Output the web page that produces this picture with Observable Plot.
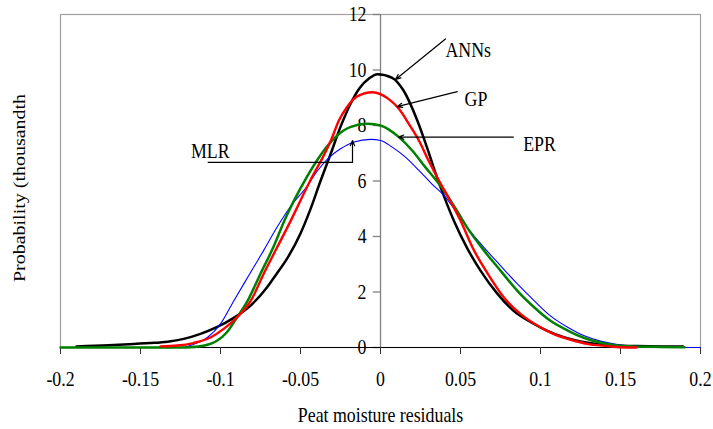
<!DOCTYPE html>
<html><head><meta charset="utf-8">
<script src="https://cdn.jsdelivr.net/npm/d3@7"></script>
<script src="https://cdn.jsdelivr.net/npm/@observablehq/plot@0.6"></script>
<style>
html,body{margin:0;padding:0;background:#fff}
#chart svg{font-family:"Liberation Serif","Times New Roman",serif}
</style>
</head><body><div id="chart"></div>
<script>
// Tick values
const xTicks = [-0.2, -0.15, -0.1, -0.05, 0, 0.05, 0.1, 0.15, 0.2];
const yTicks = [0, 2, 4, 6, 8, 10, 12];

// Series
const annX = [-0.19, -0.17, -0.154, -0.144, -0.133, -0.123, -0.1125, -0.102, -0.092, -0.081, -0.071, -0.065, -0.058, -0.050, -0.044, -0.0375, -0.031, -0.025, -0.019, -0.013, -0.007, -0.002, 0.0073, 0.0144, 0.023, 0.029, 0.034, 0.040, 0.046, 0.054, 0.0625, 0.073, 0.083, 0.094, 0.104, 0.1146, 0.125, 0.135, 0.148, 0.16, 0.175, 0.189];
const annY = [0.04, 0.08, 0.13, 0.16, 0.21, 0.31, 0.49, 0.74, 1.06, 1.52, 2.16, 2.65, 3.24, 4.11, 4.95, 6.00, 7.00, 7.95, 8.75, 9.35, 9.70, 9.85, 9.72, 9.26, 8.18, 7.22, 6.35, 5.40, 4.55, 3.60, 2.77, 1.94, 1.33, 0.91, 0.61, 0.37, 0.22, 0.13, 0.07, 0.05, 0.04, 0.04];

const gpX = [-0.1375, -0.127, -0.117, -0.106, -0.098, -0.0896, -0.081, -0.073, -0.0646, -0.056, -0.050, -0.0417, -0.036, -0.031, -0.026, -0.021, -0.0146, -0.005, 0.0052, 0.0115, 0.0177, 0.024, 0.030, 0.0365, 0.044, 0.05, 0.058, 0.067, 0.077, 0.0875, 0.098, 0.108, 0.119, 0.129, 0.142, 0.15, 0.16];
const gpY = [0.04, 0.07, 0.16, 0.37, 0.67, 1.09, 1.69, 2.66, 3.61, 4.58, 5.30, 6.26, 6.86, 7.46, 8.18, 8.66, 9.05, 9.20, 8.95, 8.60, 8.06, 7.46, 6.74, 6.02, 5.25, 4.58, 3.55, 2.66, 1.81, 1.21, 0.79, 0.49, 0.28, 0.13, 0.05, 0.01, 0.0];

const eprX = [-0.2, -0.15, -0.125, -0.119, -0.110, -0.102, -0.096, -0.0896, -0.083, -0.075, -0.067, -0.060, -0.054, -0.046, -0.0396, -0.033, -0.027, -0.019, -0.008, 0.0, 0.0115, 0.0198, 0.028, 0.0365, 0.047, 0.054, 0.0646, 0.075, 0.0854, 0.096, 0.106, 0.117, 0.127, 0.1375, 0.148, 0.158, 0.175, 0.19];
const eprY = [0.0, 0.0, 0.0, 0.01, 0.07, 0.25, 0.55, 1.09, 1.69, 2.66, 3.61, 4.58, 5.30, 6.15, 6.75, 7.28, 7.64, 7.94, 8.06, 8.00, 7.58, 7.10, 6.50, 5.90, 5.00, 4.34, 3.50, 2.77, 2.05, 1.45, 0.97, 0.61, 0.35, 0.17, 0.07, 0.04, 0.02, 0.01];

const mlrX = [-0.2, -0.15, -0.13, -0.123, -0.117, -0.108, -0.100, -0.092, -0.083, -0.073, -0.0646, -0.056, -0.046, -0.0396, -0.033, -0.025, -0.017, -0.006, 0.0, 0.0073, 0.0156, 0.024, 0.032, 0.0406, 0.046, 0.054, 0.0646, 0.075, 0.0854, 0.096, 0.106, 0.117, 0.127, 0.1375, 0.148, 0.158, 0.175, 0.2];
const mlrY = [0.0, 0.0, 0.0, 0.01, 0.11, 0.37, 0.85, 1.65, 2.53, 3.50, 4.34, 5.10, 5.80, 6.35, 6.80, 7.16, 7.40, 7.50, 7.46, 7.22, 6.86, 6.38, 5.90, 5.42, 5.00, 4.34, 3.61, 2.95, 2.30, 1.69, 1.15, 0.73, 0.43, 0.23, 0.11, 0.05, 0.02, 0.0];

// Annotations (labels and arrows, in data units)
const annoLabel = ["ANNs", "GP", "EPR", "MLR"];
const annoTextX = [0.0406, 0.0525, 0.0892, -0.1185];
const annoTextY = [10.71, 8.94, 7.32, 7.08];
const arrowX1 = [0.0406, 0.048, 0.083, -0.0175];
const arrowY1 = [11.12, 9.22, 7.58, 6.67];
const arrowX2 = [0.0094, 0.0104, 0.0113, -0.0175];
const arrowY2 = [9.66, 8.68, 7.58, 7.46];
const mlrLeaderX = [-0.108, -0.0175];
const mlrLeaderY = [6.67, 6.67];

const xLabel = "Peat moisture residuals";
const yLabel = "Probability (thousandth";

const toRows = (xs, ys) => xs.map((x, i) => ({x, y: ys[i]}));
const annRows = toRows(annX, annY);
const gpRows = toRows(gpX, gpY);
const eprRows = toRows(eprX, eprY);
const mlrRows = toRows(mlrX, mlrY);
const annoRows = annoLabel.map((label, i) => ({label, tx: annoTextX[i], ty: annoTextY[i], x1: arrowX1[i], y1: arrowY1[i], x2: arrowX2[i], y2: arrowY2[i]}));
const leaderRows = [{x1: mlrLeaderX[0], y1: mlrLeaderY[0], x2: mlrLeaderX[1], y2: mlrLeaderY[1]}];

const font = '"Liberation Serif", "Times New Roman", serif';
const fs = 21;

const chart = Plot.plot({
  width: 713,
  height: 429,
  marginLeft: 60,
  marginRight: 13,
  marginTop: 14,
  marginBottom: 82,
  style: {fontFamily: font, fontSize: fs + "px", background: "#fff", color: "#000", overflow: "visible"},
  x: {domain: [-0.2, 0.2]},
  y: {domain: [0, 12], axis: null},
  marks: [
    Plot.frame({stroke: "#a0a0a0", strokeWidth: 1.2}),
    // y axis at x = 0
    Plot.ruleX([0], {stroke: "#808080", strokeWidth: 1.3}),
    Plot.ruleY(yTicks, {y: d => d, x1: 0, x2: -0.0045, stroke: "#808080", strokeWidth: 1.3}),
    Plot.text(yTicks, {x: 0, y: d => d, text: d => String(d), textAnchor: "end", lineAnchor: "middle", dx: -14, fontSize: fs, fill: "#000"}),
    // x axis
    Plot.ruleY([0], {stroke: "#000", strokeWidth: 1.2}),
    Plot.axisX(xTicks, {tickSize: 7, tickPadding: 17, tickFormat: d => String(d), fontSize: fs, label: null, stroke: "#333", fill: "#000"}),
    // axis titles
    Plot.text([xLabel], {frameAnchor: "bottom", textAnchor: "middle", lineAnchor: "middle", dy: 68, fontSize: fs, fill: "#000"}),
    Plot.text([yLabel], {frameAnchor: "left", textAnchor: "middle", lineAnchor: "middle", dx: -40.5, dy: 7, rotate: -90, fontSize: 20, fill: "#000"}),
    // curves
    Plot.line(annRows, {x: "x", y: "y", stroke: "#000000", strokeWidth: 2.5, curve: "monotone-x"}),
    Plot.line(mlrRows, {x: "x", y: "y", stroke: "#0000ff", strokeWidth: 1.1, curve: "monotone-x"}),
    Plot.line(eprRows, {x: "x", y: "y", stroke: "#008000", strokeWidth: 2.5, curve: "monotone-x"}),
    Plot.line(gpRows, {x: "x", y: "y", stroke: "#ff0000", strokeWidth: 2.4, curve: "monotone-x"}),
    // annotations
    Plot.link(leaderRows, {x1: "x1", y1: "y1", x2: "x2", y2: "y2", stroke: "#000", strokeWidth: 1.2}),
    Plot.arrow(annoRows, {x1: "x1", y1: "y1", x2: "x2", y2: "y2", stroke: "#000", strokeWidth: 1.2, headLength: 7, headAngle: 45, bend: 0}),
    Plot.text(annoRows, {x: "tx", y: "ty", text: "label", textAnchor: "start", lineAnchor: "middle", fontSize: fs, fill: "#000"})
  ]
});
document.getElementById("chart").appendChild(chart);

// The reference's lettering is horizontally condensed: narrow each text about its anchor.
const squeeze = 0.85;
const svgRect = chart.getBoundingClientRect();
chart.querySelectorAll("text").forEach(t => {
  const r = t.getBoundingClientRect();
  const anchor = getComputedStyle(t).textAnchor;
  const ax = anchor === "start" ? r.left : anchor === "end" ? r.right : (r.left + r.right) / 2;
  const m = t.parentNode.getCTM();
  const lx = (ax - svgRect.left - m.e) / m.a;
  const prev = t.getAttribute("transform") || "";
  t.setAttribute("transform", `translate(${lx},0) scale(${squeeze},1) translate(${-lx},0) ${prev}`);
});
</script>
</body></html>
